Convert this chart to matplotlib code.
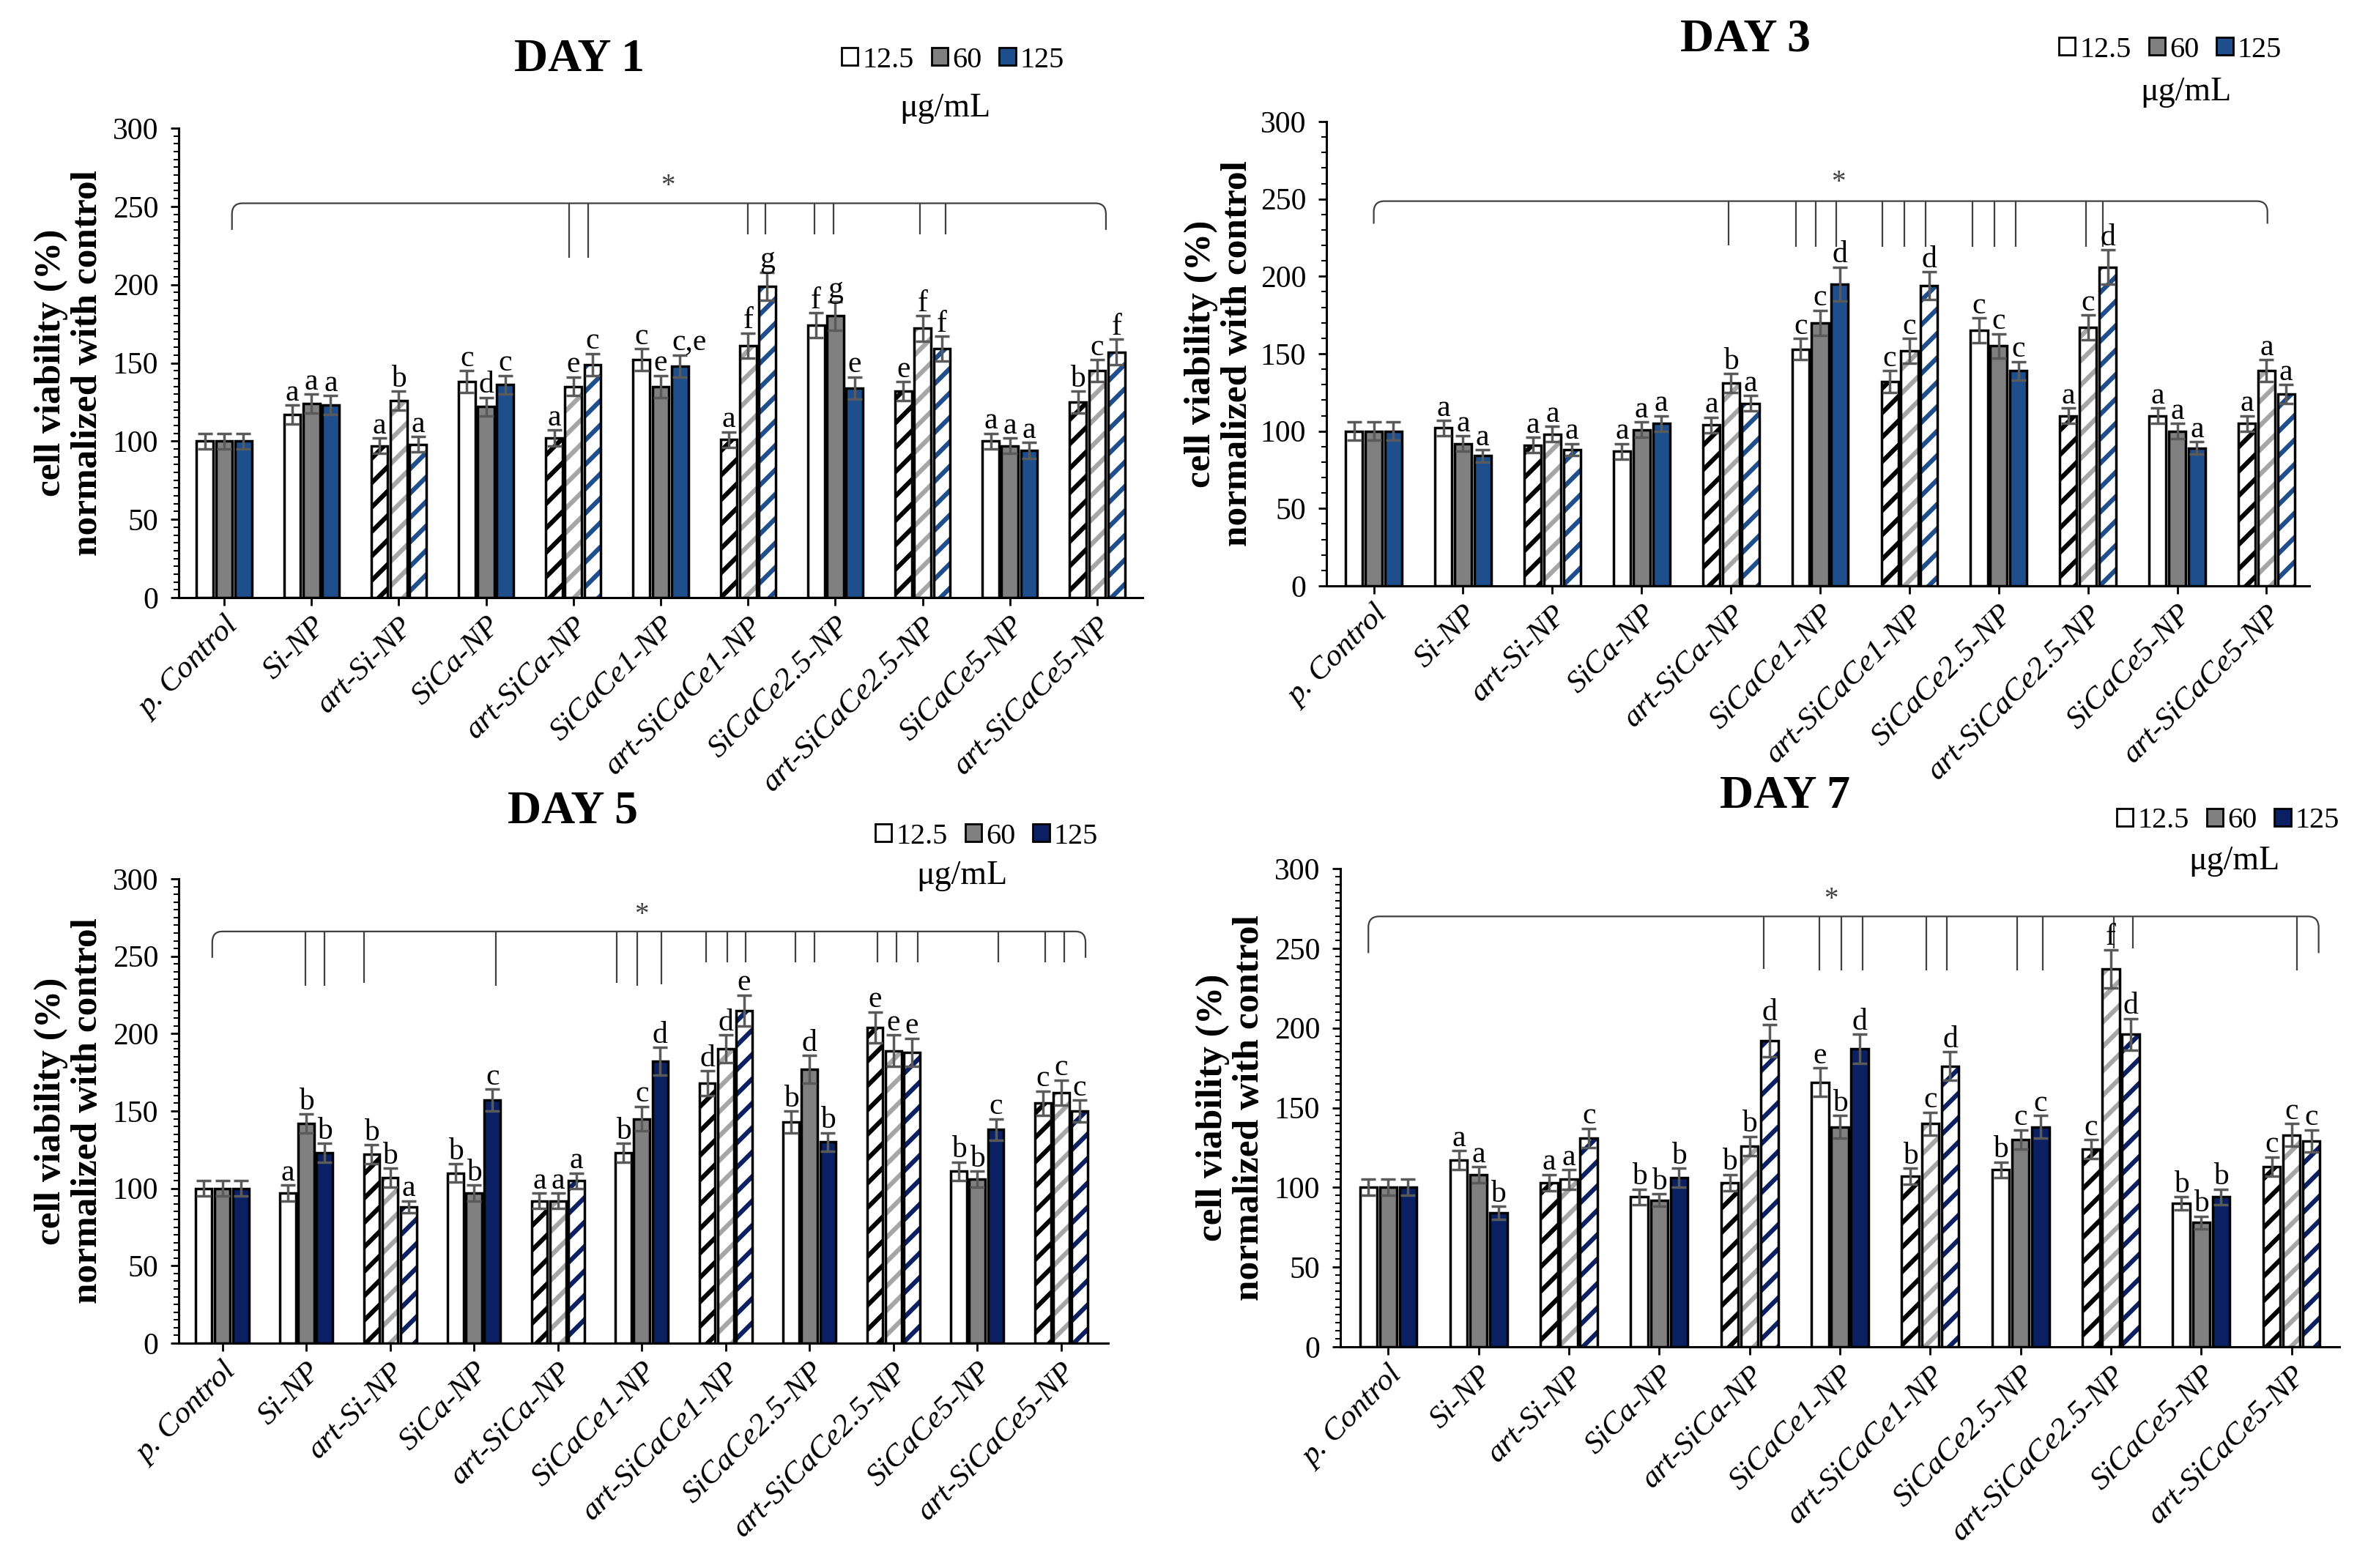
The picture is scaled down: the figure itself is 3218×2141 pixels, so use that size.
import numpy as np
import matplotlib
matplotlib.use("Agg")
import matplotlib.pyplot as plt
from matplotlib.patches import Patch, PathPatch
from matplotlib.path import Path
from matplotlib.ticker import MultipleLocator

plt.rcParams['font.family'] = ['Liberation Serif', 'DejaVu Serif']
plt.rcParams['hatch.linewidth'] = 4.5

W, H = 3218, 2141

groups = ['p. Control', 'Si-NP', 'art-Si-NP', 'SiCa-NP', 'art-SiCa-NP', 'SiCaCe1-NP',
          'art-SiCaCe1-NP', 'SiCaCe2.5-NP', 'art-SiCaCe2.5-NP', 'SiCaCe5-NP', 'art-SiCaCe5-NP']
conc_labels = ['12.5', '60', '125']

# ---- DAY 1 ----
day1_c12 = [100, 117, 97, 138, 102, 152, 101, 174, 132, 100, 125]
day1_c60 = [100, 124, 126, 122, 135, 135, 161, 180, 172, 97, 145]
day1_c125 = [100, 123, 98, 136, 149, 148, 199, 134, 159, 94, 157]
day1_e12 = [5, 6, 5, 7, 5, 7, 5, 8, 6, 5, 7]
day1_e60 = [5, 6, 6, 6, 6, 7, 8, 9, 8, 5, 7]
day1_e125 = [5, 6, 5, 6, 7, 7, 9, 7, 8, 5, 8]
day1_l12 = ['', 'a', 'a', 'c', 'a', 'c', 'a', 'f', 'e', 'a', 'b']
day1_l60 = ['', 'a', 'b', 'd', 'e', 'e', 'f', 'g', 'f', 'a', 'c']
day1_l125 = ['', 'a', 'a', 'c', 'c', 'c,e', 'g', 'e', 'f', 'a', 'f']

# ---- DAY 3 ----
day3_c12 = [100, 102, 91, 87, 104, 153, 132, 165, 110, 110, 105]
day3_c60 = [100, 92, 98, 101, 131, 170, 152, 155, 167, 100, 139]
day3_c125 = [100, 84, 88, 105, 118, 195, 194, 139, 206, 89, 124]
day3_e12 = [6, 5, 5, 5, 5, 7, 7, 8, 5, 5, 5]
day3_e60 = [6, 5, 5, 5, 6, 8, 8, 8, 8, 5, 7]
day3_e125 = [6, 4, 4, 5, 5, 11, 9, 6, 11, 4, 6]
day3_l12 = ['', 'a', 'a', 'a', 'a', 'c', 'c', 'c', 'a', 'a', 'a']
day3_l60 = ['', 'a', 'a', 'a', 'b', 'c', 'c', 'c', 'c', 'a', 'a']
day3_l125 = ['', 'a', 'a', 'a', 'a', 'd', 'd', 'c', 'd', 'a', 'a']

# ---- DAY 5 ----
day5_c12 = [100, 97, 122, 110, 92, 123, 168, 143, 204, 111, 155]
day5_c60 = [100, 142, 107, 97, 92, 145, 190, 177, 189, 106, 162]
day5_c125 = [100, 123, 88, 157, 105, 182, 215, 130, 188, 138, 150]
day5_e12 = [5, 5, 6, 6, 5, 6, 8, 7, 10, 6, 8]
day5_e60 = [5, 6, 6, 5, 5, 8, 9, 9, 10, 5, 8]
day5_e125 = [5, 6, 4, 7, 5, 9, 10, 6, 9, 7, 7]
day5_l12 = ['', 'a', 'b', 'b', 'a', 'b', 'd', 'b', 'e', 'b', 'c']
day5_l60 = ['', 'b', 'b', 'b', 'a', 'c', 'd', 'd', 'e', 'b', 'c']
day5_l125 = ['', 'b', 'a', 'c', 'a', 'd', 'e', 'b', 'e', 'c', 'c']

# ---- DAY 7 ----
day7_c12 = [100, 117, 103, 94, 103, 166, 107, 111, 124, 90, 113]
day7_c60 = [100, 108, 105, 92, 126, 138, 140, 130, 237, 78, 133]
day7_c125 = [100, 84, 131, 106, 192, 187, 176, 138, 196, 94, 129]
day7_e12 = [5, 6, 5, 5, 5, 9, 5, 5, 6, 4, 6]
day7_e60 = [5, 5, 6, 4, 6, 7, 7, 6, 12, 4, 7]
day7_e125 = [5, 4, 6, 6, 10, 9, 9, 7, 10, 5, 7]
day7_l12 = ['', 'a', 'a', 'b', 'b', 'e', 'b', 'b', 'c', 'b', 'c']
day7_l60 = ['', 'a', 'a', 'b', 'b', 'b', 'c', 'c', 'f', 'b', 'c']
day7_l125 = ['', 'b', 'c', 'b', 'd', 'd', 'd', 'c', 'd', 'b', 'c']

# significance brackets (drop positions in category units, drop bottoms in %)
day1_drops = [3.95, 4.17, 6.00, 6.20, 6.76, 6.98, 7.97, 8.26]
day1_drop_bot = [217, 217, 232, 232, 232, 232, 232, 232]
day3_drops = [3.97, 4.73, 4.95, 5.18, 5.70, 5.94, 6.18, 6.71, 6.95, 7.19, 7.98, 8.17]
day3_drop_bot = [220, 219, 219, 219, 219, 219, 219, 219, 219, 219, 219, 219]
day5_drops = [0.99, 1.22, 1.69, 3.26, 4.70, 4.95, 5.23, 5.77, 6.02, 6.24, 6.83, 7.06,
              7.81, 8.04, 8.29, 9.25, 9.81, 10.04]
day5_drop_bot = [231, 231, 233, 231, 233, 231, 232, 246, 246, 246, 246, 246,
                 246, 246, 246, 246, 246, 246]
day7_drops = [4.16, 4.77, 5.02, 5.25, 5.96, 6.18, 6.96, 7.25, 8.03, 8.24, 10.06]
day7_drop_bot = [237, 236, 236, 236, 236, 236, 236, 236, 250, 250, 236]


def draw_panel(rect_px, xlim, vals, errs, lets, blue, minor, title, title_px,
               leg_px, unit_px, ylab_x, bracket, drops, drop_bot, star):
    left, right, top, bottom = rect_px
    ax = fig.add_axes([left / W, 1 - bottom / H, (right - left) / W, (bottom - top) / H])
    x = np.arange(len(groups))
    offs = [-0.22, 0.0, 0.22]
    solid = ['white', '#808080', blue]
    stripe = ['black', '#a6a6a6', blue]
    bw = 0.19
    for k in range(3):
        for i, g in enumerate(groups):
            xi = x[i] + offs[k]
            if g.startswith('art-'):
                ax.bar(xi, vals[k][i], bw, color='white', edgecolor=stripe[k],
                       hatch='/', linewidth=0, zorder=2)
                ax.bar(xi, vals[k][i], bw, fill=False, edgecolor='black',
                       linewidth=2.5, zorder=3)
            else:
                ax.bar(xi, vals[k][i], bw, color=solid[k], edgecolor='black',
                       linewidth=2.5, zorder=2)
        ax.errorbar(x + offs[k], vals[k], yerr=errs[k], fmt='none', ecolor='#5a5a5a',
                    elinewidth=2.5, capsize=7, capthick=2.5, zorder=4)
        for i in range(len(groups)):
            lab = lets[k][i]
            if not lab:
                continue
            if len(lab) > 1:
                # longer labels start at the bar's left edge, as in the original
                ax.text(x[i] + offs[k] - bw / 2, vals[k][i] + errs[k][i] + 3, lab,
                        ha='left', va='baseline', fontsize=30, zorder=5)
            else:
                ax.text(x[i] + offs[k], vals[k][i] + errs[k][i] + 3, lab,
                        ha='center', va='baseline', fontsize=30, zorder=5)

    # bracket
    yl, xl, xr, ye = bracket
    r, ry = 0.12, 7
    verts = [(xl, ye), (xl, yl - ry), (xl, yl), (xl + r, yl), (xr - r, yl),
             (xr, yl), (xr, yl - ry), (xr, ye)]
    codes = [Path.MOVETO, Path.LINETO, Path.CURVE3, Path.CURVE3, Path.LINETO,
             Path.CURVE3, Path.CURVE3, Path.LINETO]
    ax.add_patch(PathPatch(Path(verts, codes), fill=False, edgecolor='#404040',
                           linewidth=1.6, zorder=3))
    ax.vlines(drops, drop_bot, yl, color='#404040', linewidth=1.6, zorder=3)
    ax.text(star[0], star[1], '*', ha='center', va='center', fontsize=28, color='#404040')

    ax.set_xlim(*xlim)
    ax.set_ylim(0, 300)
    ax.yaxis.set_major_locator(MultipleLocator(50))
    ax.yaxis.set_minor_locator(MultipleLocator(minor))
    ax.set_xticks(x)
    ax.set_xticklabels(groups, rotation=45, ha='right', va='top',
                       rotation_mode='anchor', style='italic', fontsize=31)
    ax.tick_params(axis='y', which='major', labelsize=30, length=8, width=2, pad=12)
    ax.tick_params(axis='y', which='minor', length=5, width=1.5)
    ax.tick_params(axis='x', which='major', length=8, width=2, pad=6)
    for s in ['top', 'right']:
        ax.spines[s].set_visible(False)
    for s in ['left', 'bottom']:
        ax.spines[s].set_linewidth(2.2)

    ax.set_ylabel('cell viability (%)\nnormalized with control', fontsize=37,
                  fontweight='bold', linespacing=1.1, va='center')
    ax.yaxis.set_label_coords((ylab_x - left) / (right - left), 0.5)

    fig.text(title_px[0] / W, 1 - title_px[1] / H, title, ha='center', va='center',
             fontsize=46, fontweight='bold')
    handles = [Patch(facecolor='white', edgecolor='black', linewidth=2),
               Patch(facecolor='#808080', edgecolor='black', linewidth=2),
               Patch(facecolor=blue, edgecolor='black', linewidth=2)]
    fig.legend(handles, conc_labels, loc='center', ncol=3, frameon=False,
               bbox_to_anchor=(leg_px[0] / W, 1 - leg_px[1] / H), fontsize=29,
               handlelength=0.55, handleheight=0.55, handletextpad=0.15,
               columnspacing=0.6, borderpad=0)
    fig.text(unit_px[0] / W, 1 - unit_px[1] / H, 'μg/mL', ha='center', va='center',
             fontsize=33)
    return ax


fig = plt.figure(figsize=(W / 100, H / 100), dpi=100)
fig.patch.set_facecolor('white')

blue_a = '#1f4e8c'
blue_b = '#0a2062'

draw_panel((244, 1560, 175, 816), (-0.52, 10.52),
           [day1_c12, day1_c60, day1_c125], [day1_e12, day1_e60, day1_e125],
           [day1_l12, day1_l60, day1_l125], blue_a, 5, 'DAY 1', (791, 82),
           (1301, 82), (1290, 148), 95, (252, 0.09, 10.1, 235),
           day1_drops, day1_drop_bot, (5.08, 263))

draw_panel((1811, 3153, 166, 800), (-0.53, 10.48),
           [day3_c12, day3_c60, day3_c125], [day3_e12, day3_e60, day3_e125],
           [day3_l12, day3_l60, day3_l125], blue_a, 10, 'DAY 3', (2383, 55),
           (2963, 68), (2984, 126), 1665, (248.6, 0.0, 10.01, 234),
           day3_drops, day3_drop_bot, (5.20, 260.6))

draw_panel((244, 1513, 1200, 1834), (-0.52, 10.56),
           [day5_c12, day5_c60, day5_c125], [day5_e12, day5_e60, day5_e125],
           [day5_l12, day5_l60, day5_l125], blue_b, 5, 'DAY 5', (782, 1108),
           (1347, 1142), (1313, 1196), 95, (266, -0.12, 10.29, 249),
           day5_drops, day5_drop_bot, (5.0, 276.8))

draw_panel((1830, 3194, 1186, 1839), (-0.53, 10.53),
           [day7_c12, day7_c60, day7_c125], [day7_e12, day7_e60, day7_e125],
           [day7_l12, day7_l60, day7_l125], blue_b, 5, 'DAY 7', (2437, 1088),
           (3042, 1121), (3050, 1176), 1681, (270, -0.22, 10.30, 247),
           day7_drops, day7_drop_bot, (4.90, 280.6))

fig.savefig('out.png', dpi=100, facecolor='white')
